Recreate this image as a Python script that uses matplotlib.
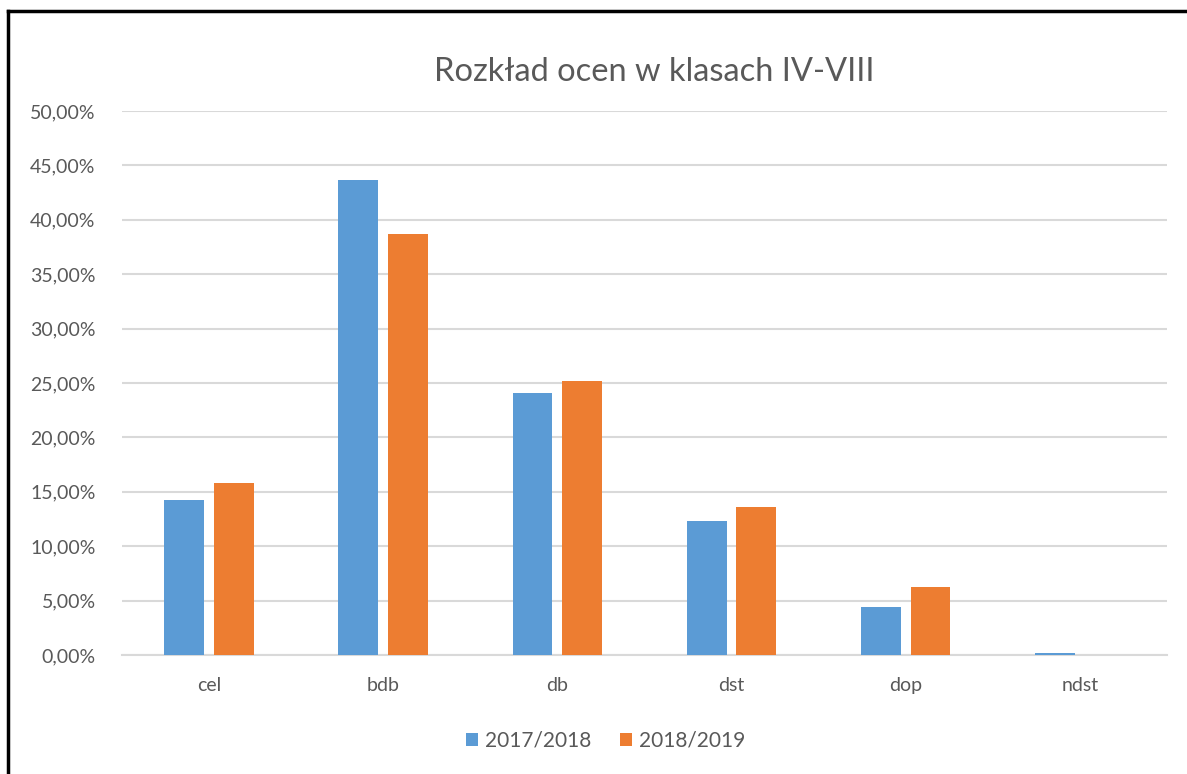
import numpy as np
import matplotlib.pyplot as plt
from matplotlib.lines import Line2D
from matplotlib.ticker import FuncFormatter

categories = ['cel', 'bdb', 'db', 'dst', 'dop', 'ndst']
series_names = ['2017/2018', '2018/2019']
y2017 = [14.25, 43.65, 24.1, 12.3, 4.45, 0.2]
y2018 = [15.8, 38.7, 25.2, 13.6, 6.25, 0.0]

blue = '#5b9bd5'
orange = '#ed7d31'
grey = '#595959'

plt.rcParams['font.family'] = ['Lato', 'DejaVu Sans']

fig = plt.figure(figsize=(11.87, 7.74), dpi=100)
ax = fig.add_axes([0.1028, 0.1537, 0.8802, 0.7029])

x = np.arange(len(categories))
w = 0.229
off = 0.143
ax.bar(x - off, y2017, w, color=blue, label=series_names[0], zorder=3)
ax.bar(x + off, y2018, w, color=orange, label=series_names[1], zorder=3)

ax.set_xlim(-0.5, len(categories) - 0.5)
ax.set_ylim(0, 50)
ax.set_yticks(np.arange(0, 51, 5))
ax.yaxis.set_major_formatter(FuncFormatter(lambda v, p: f'{v:.2f}%'.replace('.', ',')))
ax.set_xticks(x)
ax.set_xticklabels(categories)
ax.grid(axis='y', color='#d9d9d9', lw=1.5, zorder=0)
for s in ['top', 'right', 'left']:
    ax.spines[s].set_visible(False)
ax.spines['bottom'].set_color('#d9d9d9')
ax.spines['bottom'].set_linewidth(1.5)
ax.tick_params(length=0, labelsize=14, labelcolor=grey)
ax.tick_params(axis='y', pad=19)
ax.tick_params(axis='x', pad=16)

fig.text(0.551, 0.907, 'Rozkład ocen w klasach IV-VIII', ha='center', va='center',
         fontsize=23.5, color=grey)

fig.legend(loc='center', bbox_to_anchor=(0.51, 0.043), ncol=2, frameon=False,
           fontsize=15, labelcolor=grey, handlelength=0.6, handleheight=0.6,
           columnspacing=1.4, handletextpad=0.3)

# frame around the chart area
fig.add_artist(Line2D([0.0065, 0.0065], [0, 0.986], color='black', lw=2.5, transform=fig.transFigure))
fig.add_artist(Line2D([0.0065, 1], [0.986, 0.986], color='black', lw=2.5, transform=fig.transFigure))

fig.savefig('out.png', dpi=100)
